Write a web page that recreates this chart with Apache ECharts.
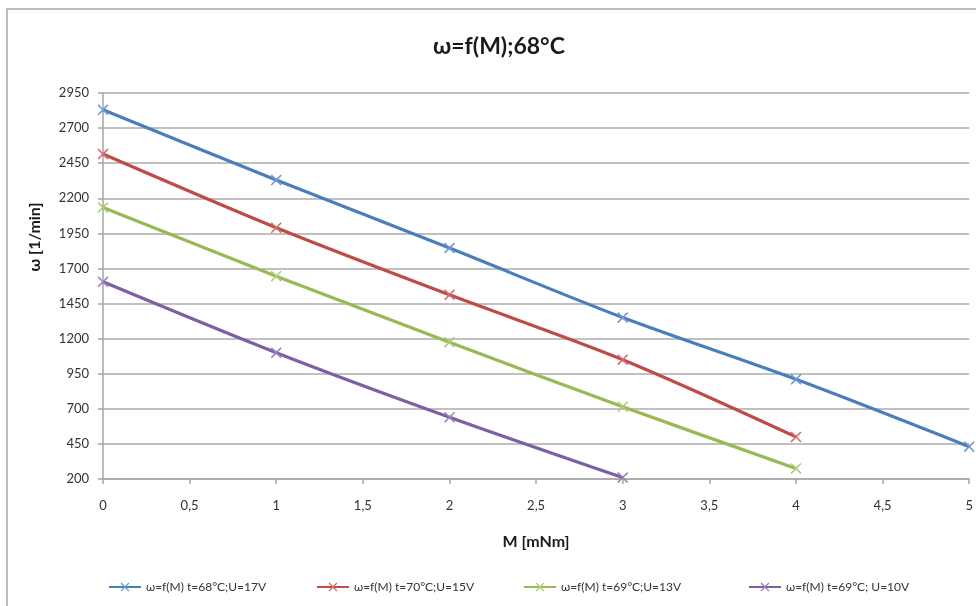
<!DOCTYPE html>
<html>
<head>
<meta charset="utf-8">
<script src="https://cdn.jsdelivr.net/npm/echarts@6/dist/echarts.min.js"></script>
<style>
html,body{margin:0;padding:0;background:#fff;}
#chart{width:976px;height:606px;}
</style>
</head>
<body>
<div id="chart"></div>
<script>
// ---- data ----
const titleText = 'ω=f(M);68°C';
const xName = 'M [mNm]';
const yName = 'ω [1/min]';
const seriesNames = [
  'ω=f(M) t=68°C;U=17V',
  'ω=f(M) t=70°C;U=15V',
  'ω=f(M) t=69°C;U=13V',
  'ω=f(M) t=69°C; U=10V'
];
const mValues = [0, 1, 2, 3, 4, 5];
const omega68_17 = [2830, 2330, 1845, 1350, 910, 430];
const omega70_15 = [2515, 1990, 1512, 1050, 500];
const omega69_13 = [2135, 1645, 1175, 715, 275];
const omega69_10 = [1605, 1100, 640, 210];
const yTicks = [200, 450, 700, 950, 1200, 1450, 1700, 1950, 2200, 2450, 2700, 2950];
const xTickStep = 0.5;

// ---- styling ----
const colors = ['#4A7EBB', '#BE4B48', '#98B954', '#7D60A0'];
const markerColors = ['#6F9AD0', '#D26F6C', '#AECB7A', '#9A80B8'];
const FONT = 'Lato, "Open Sans", sans-serif';
const xMark = 'path://M0,1 L1,0 L5,4 L9,0 L10,1 L6,5 L10,9 L9,10 L5,6 L1,10 L0,9 L4,5 Z';

function pairs(ys) { return ys.map((v, i) => [mValues[i], v]); }
const allY = [omega68_17, omega70_15, omega69_13, omega69_10];

const chart = echarts.init(document.getElementById('chart'), null, {renderer: 'canvas'});
const legendLefts = [103, 311, 518, 743];

chart.setOption({
  animation: false,
  backgroundColor: '#ffffff',
  title: {
    text: titleText,
    left: 428,
    top: 30,
    textStyle: {fontFamily: FONT, fontSize: 23, fontWeight: 'bold', color: '#1a1a1a'}
  },
  grid: {left: 103, right: 3, top: 93, bottom: 127, containLabel: false},
  xAxis: {
    type: 'value',
    min: 0, max: 5, interval: xTickStep,
    name: xName,
    nameLocation: 'middle',
    nameGap: 55,
    nameTextStyle: {fontFamily: FONT, fontSize: 16, fontWeight: 'bold', color: '#1a1a1a'},
    axisLine: {show: true, lineStyle: {color: '#a6a6a6', width: 1.5}},
    axisTick: {show: true, length: 5, lineStyle: {color: '#a6a6a6', width: 1.5}},
    axisLabel: {
      margin: 20, fontFamily: FONT, fontSize: 13, color: '#333',
      formatter: v => String(v).replace('.', ',')
    },
    splitLine: {show: false}
  },
  yAxis: {
    type: 'value',
    min: yTicks[0], max: yTicks[yTicks.length - 1],
    axisLine: {show: true, lineStyle: {color: '#a6a6a6', width: 1.5}},
    axisTick: {show: true, length: 5, customValues: yTicks, lineStyle: {color: '#a6a6a6', width: 1.5}},
    axisLabel: {margin: 14, fontFamily: FONT, fontSize: 13, color: '#333', customValues: yTicks,
      formatter: v => String(v)},
    splitLine: {show: true, lineStyle: {color: '#ababab', width: 1.5}}
  },
  legend: seriesNames.map((n, i) => ({
    data: [n],
    left: legendLefts[i],
    top: 576,
    itemWidth: 32,
    itemHeight: 11,
    itemGap: 10,
    textStyle: {fontFamily: FONT, fontSize: 12, color: '#333'}
  })),
  graphic: [
    {
      type: 'rect',
      shape: {x: 7, y: 9, width: 1100, height: 1100},
      style: {fill: 'none', stroke: '#bdbdbd', lineWidth: 2},
      silent: true, z: -1
    },
    {
      type: 'text',
      x: 35, y: 237,
      rotation: Math.PI / 2,
      style: {
        text: yName, fontFamily: FONT, fontSize: 16, fontWeight: 'bold',
        fill: '#1a1a1a', align: 'center', verticalAlign: 'middle'
      }
    }
  ],
  series: allY.map((ys, i) => ({
    name: seriesNames[i],
    type: 'line',
    data: pairs(ys),
    smooth: 0.3,
    symbol: xMark,
    symbolSize: 11,
    showSymbol: true,
    lineStyle: {color: colors[i], width: 3.2},
    itemStyle: {color: markerColors[i]},
    emphasis: {disabled: true},
    z: 2 + i
  }))
});
</script>
</body>
</html>
